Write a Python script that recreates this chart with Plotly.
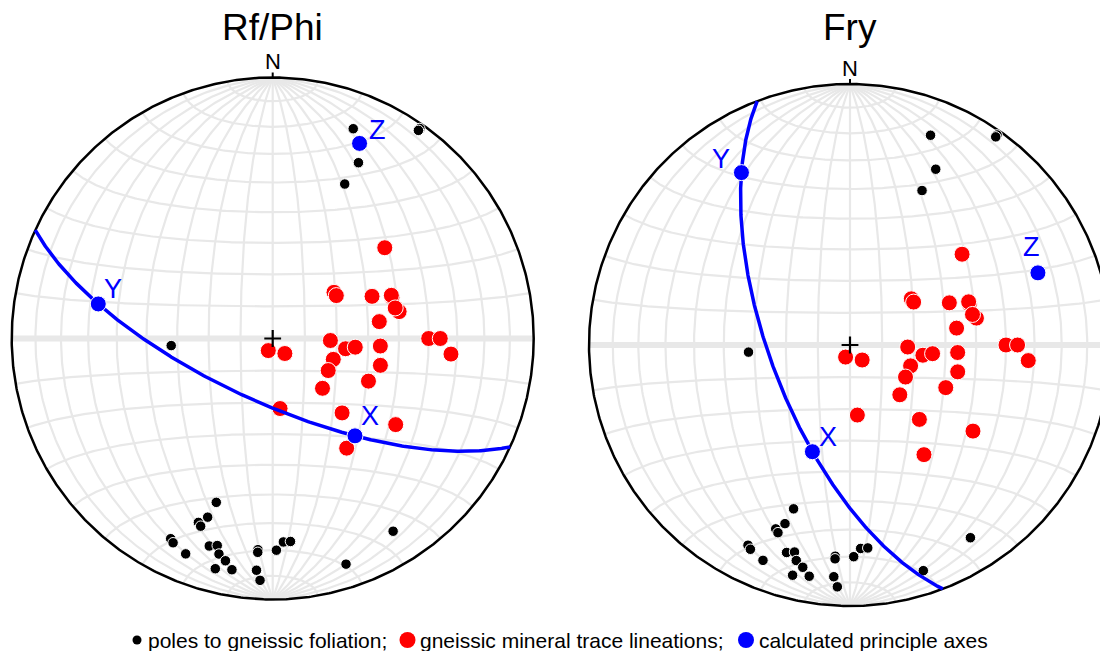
import numpy as np
import plotly.graph_objects as go

# ---------------- data (trend / plunge, degrees) ----------------
pole_trend = [21, 35, 35, 26, 25, 266, 199, 200, 202, 201, 207, 206, 202, 197, 195,
              194, 192, 194, 190, 184, 184, 184, 183, 179, 177, 175, 148, 162]
pole_plunge = [15, 2, 3, 26, 35, 58, 34, 28, 25, 24, 15, 14, 12, 18, 19,
               16, 14, 10, 11, 20, 19, 12, 8, 20, 23, 23, 14, 10]

lin_trend = [51, 53, 56, 67, 71, 70, 78, 76, 81, 92, 98, 96, 94, 90, 90, 95,
             200, 141, 109, 120, 104, 114, 135, 174, 137, 125, 146]
lin_plunge = [44, 66, 66, 56, 50, 50, 49, 50, 56, 72, 67, 64, 56, 40, 36, 32,
              86, 84, 70, 70, 55, 57, 68, 68, 58, 42, 48]

axis_names = ["X", "Y", "Z"]
rfphi_axis_trend = [139.8, 281.2, 24.0]
rfphi_axis_plunge = [49.6, 32.4, 19.3]
fry_axis_trend = [199.4, 327.8, 69.0]
fry_axis_plunge = [54.3, 23.0, 23.9]

titles = ["Rf/Phi", "Fry"]
legend_labels = ["poles to gneissic foliation;",
                 "gneissic mineral trace lineations;",
                 "calculated principle axes"]

# ---------------- helpers ----------------
FONT = "Liberation Sans, Arial, sans-serif"
W, H = 1100, 651
R_PX = 261.0


def vec(trend, plunge):
    t = np.radians(np.asarray(trend, float))
    p = np.radians(np.asarray(plunge, float))
    return np.cos(p) * np.sin(t), np.cos(p) * np.cos(t), np.sin(p)


def proj(E, N, D):
    """lower-hemisphere equal-area (Schmidt), primitive radius 1"""
    E, N, D = np.asarray(E, float), np.asarray(N, float), np.asarray(D, float)
    f = 1.0 / np.sqrt(1.0 + D)
    return E * f, N * f


def grid():
    xs, ys = [], []
    t = np.linspace(0, np.pi, 241)
    # great circles through N-S
    for d in range(10, 91, 10):
        dr = np.radians(d)
        for sgn in ((1, -1) if d < 90 else (1,)):
            E = sgn * np.sin(t) * np.cos(dr)
            N = np.cos(t)
            D = np.sin(t) * np.sin(dr)
            x, y = proj(E, N, D)
            xs += list(x) + [None]
            ys += list(y) + [None]
    # small circles about N-S axis
    for a in range(10, 180, 10):
        if a == 90:
            continue
        ar = np.radians(a)
        N = np.cos(ar) * np.ones_like(t)
        E = np.sin(ar) * np.cos(t)
        D = np.sin(ar) * np.sin(t)
        x, y = proj(E, N, D)
        xs += list(x) + [None]
        ys += list(y) + [None]
    return xs, ys


def plane_through(tr, pl):
    a = np.array([float(v) for v in vec(tr[0], pl[0])])
    b = np.array([float(v) for v in vec(tr[1], pl[1])])
    n = np.cross(a, b)
    n /= np.linalg.norm(n)
    s = np.cross(n, [0, 0, 1.0])
    s /= np.linalg.norm(s)
    dd = np.cross(n, s)
    if dd[2] < 0:
        dd = -dd
    t = np.linspace(0, np.pi, 361)
    v = np.outer(np.cos(t), s) + np.outer(np.sin(t), dd)
    return proj(v[:, 0], v[:, 1], v[:, 2])


fig = go.Figure()

nets = [
    dict(xa="x", ya="y", center=(272.7, 338.5), dom=(0.0, 0.5),
         at=rfphi_axis_trend, ap=rfphi_axis_plunge, title=titles[0],
         lab_shift={"X": (15.5, 20), "Y": (14.5, 15), "Z": (18.4, 13.8)}),
    dict(xa="x2", ya="y2", center=(850.0, 345.0), dom=(0.5, 1.0),
         at=fry_axis_trend, ap=fry_axis_plunge, title=titles[1],
         lab_shift={"X": (16, 14.7), "Y": (-20.5, 14), "Z": (-6.5, 25.7)}),
]

gx, gy = grid()
th = np.linspace(0, 2 * np.pi, 721)
eq_t = np.linspace(0, np.pi, 3)

px, py = proj(*vec(pole_trend, pole_plunge))
lx, ly = proj(*vec(lin_trend, lin_plunge))

for net in nets:
    xa, ya = net["xa"], net["ya"]
    common = dict(xaxis=xa, yaxis=ya, showlegend=False, hoverinfo="skip")
    # grid
    fig.add_trace(go.Scatter(x=gx, y=gy, mode="lines",
                             line=dict(color="#e8e8e8", width=2.2), **common))
    # thick E-W line
    ex, ey = proj(np.cos(eq_t), np.zeros_like(eq_t), np.sin(eq_t))
    fig.add_trace(go.Scatter(x=ex, y=ey, mode="lines",
                             line=dict(color="#e8e8e8", width=6), **common))
    # primitive
    fig.add_trace(go.Scatter(x=np.cos(th), y=np.sin(th), mode="lines",
                             line=dict(color="black", width=2.5), **common))
    # poles
    fig.add_trace(go.Scatter(x=px, y=py, mode="markers",
                             marker=dict(color="black", size=10.5,
                                         line=dict(color="white", width=1)),
                             **common))
    # lineations
    fig.add_trace(go.Scatter(x=lx, y=ly, mode="markers",
                             marker=dict(color="#ff0000", size=16,
                                         line=dict(color="white", width=1)),
                             **common))
    # XY plane
    cx, cy = plane_through(net["at"][:2], net["ap"][:2])
    fig.add_trace(go.Scatter(x=cx, y=cy, mode="lines",
                             line=dict(color="#0000ff", width=3.5), **common))
    # principal axes
    ax_x, ax_y = proj(*vec(net["at"], net["ap"]))
    fig.add_trace(go.Scatter(x=ax_x, y=ax_y, mode="markers",
                             marker=dict(color="#0000ff", size=16,
                                         line=dict(color="white", width=1)),
                             **common))
    for name, xx, yy in zip(axis_names, ax_x, ax_y):
        sx, sy = net["lab_shift"][name]
        fig.add_annotation(x=xx, y=yy, xref=xa, yref=ya, text=name,
                           showarrow=False, xshift=sx, yshift=sy,
                           font=dict(family=FONT, size=27, color="#0000ff"))
    # centre cross
    fig.add_trace(go.Scatter(x=[0], y=[0], mode="markers",
                             marker=dict(symbol="cross-thin", size=12,
                                         line=dict(color="black", width=2.2)),
                             **common))
    # N tick and label
    fig.add_shape(type="line", xref=xa, yref=ya, x0=0, x1=0, y0=1, y1=1 + 5 / R_PX,
                  line=dict(color="black", width=2))
    fig.add_annotation(x=0, y=1, xref=xa, yref=ya, text="N", showarrow=False,
                       yshift=16, font=dict(family=FONT, size=22, color="black"))
    # title
    fig.add_annotation(x=0, y=1 - 27 / H, xref=xa, yref="paper", text=net["title"],
                       showarrow=False, yanchor="middle",
                       font=dict(family=FONT, size=37, color="black"))

# ---------------- axes geometry ----------------
lay = {}
for i, net in enumerate(nets):
    cxp, cyp = net["center"]
    d0, d1 = net["dom"]
    sfx = "" if i == 0 else "2"
    lay["xaxis" + sfx] = dict(domain=[d0, d1],
                              range=[(d0 * W - cxp) / R_PX, (d1 * W - cxp) / R_PX],
                              visible=False, fixedrange=True)
    lay["yaxis" + sfx] = dict(domain=[0, 1], anchor="x" + sfx,
                              range=[(cyp - H) / R_PX, cyp / R_PX],
                              visible=False, fixedrange=True)
lay["xaxis2"]["anchor"] = "y2"

fig.update_layout(width=W, height=H, margin=dict(l=0, r=0, t=0, b=0),
                  paper_bgcolor="white", plot_bgcolor="white",
                  showlegend=False, **lay)

# ---------------- bottom key ----------------
key_y = 1 - 640 / H
key = [("black", 9, 137, 146), ("#ff0000", 16, 407.5, 418), ("#0000ff", 16, 746, 756.5)]
for (col, dia, dx, tx), lab in zip(key, legend_labels):
    fig.add_shape(type="circle", xref="paper", yref="paper",
                  xsizemode="pixel", ysizemode="pixel",
                  xanchor=dx / W, yanchor=key_y,
                  x0=-dia / 2, x1=dia / 2, y0=-dia / 2, y1=dia / 2,
                  fillcolor=col, line=dict(width=0))
    fig.add_annotation(x=tx / W, y=key_y, xref="paper", yref="paper", text=lab,
                       showarrow=False, xanchor="left", yanchor="middle",
                       font=dict(family=FONT, size=21, color="black"))

fig.write_html("out.html")
